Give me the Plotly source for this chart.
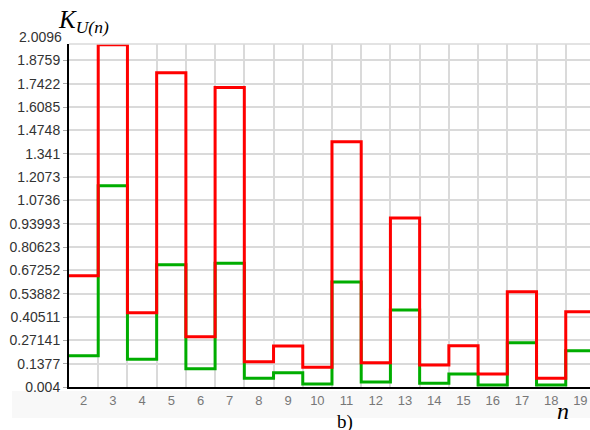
import plotly.graph_objects as go

harmonics = list(range(2, 20))
red_values = [0.642, 1.965, 0.430, 1.805, 0.292, 1.721, 0.149, 0.239, 0.117,
              1.410, 0.143, 0.972, 0.130, 0.241, 0.078, 0.550, 0.054, 0.435]
green_values = [0.183, 1.158, 0.163, 0.705, 0.109, 0.713, 0.054, 0.086, 0.021,
                0.606, 0.033, 0.445, 0.025, 0.078, 0.015, 0.258, 0.015, 0.212]
y_ticks = [0.004, 0.1377, 0.27141, 0.40511, 0.53882, 0.67252, 0.80623, 0.93993,
           1.0736, 1.2073, 1.341, 1.4748, 1.6085, 1.7422, 1.8759]
y_ticks_text = ["0.004", "0.1377", "0.27141", "0.40511", "0.53882", "0.67252", "0.80623",
                "0.93993", "1.0736", "1.2073", "1.341", "1.4748", "1.6085", "1.7422", "1.8759"]
top_tick = 2.0096
y_min, y_max = 0.004, 1.9696

edges = [h - 0.5 for h in harmonics] + [harmonics[-1] + 0.5]

fig = go.Figure()
fig.add_trace(go.Scatter(x=edges, y=green_values + [green_values[-1]], mode="lines",
                         line=dict(color="#00ad00", width=3, shape="hv"), hoverinfo="skip"))
fig.add_trace(go.Scatter(x=edges, y=red_values + [red_values[-1]], mode="lines",
                         line=dict(color="#ff0000", width=3, shape="hv"), hoverinfo="skip"))

grid = "#dadada"
plot_w, plot_h = 521, 343
fig.update_layout(
    width=590, height=430,
    margin=dict(l=69, r=0, t=44, b=43),
    paper_bgcolor="white", plot_bgcolor="white",
    showlegend=False,
    xaxis=dict(range=[1.5, 19.33], tickmode="array", tickvals=harmonics,
               ticktext=[str(h) for h in harmonics], showgrid=False, zeroline=False,
               showline=True, linecolor="black", linewidth=2, ticks="",
               tickfont=dict(family="Liberation Sans", size=13, color="#777777"),
               minor=dict(tickmode="array", tickvals=edges[1:], showgrid=True,
                          gridcolor=grid, gridwidth=1.5, ticks="")),
    yaxis=dict(range=[y_min, y_max], tickmode="array", tickvals=y_ticks, ticktext=y_ticks_text,
               showgrid=True, gridcolor=grid, gridwidth=1.5, zeroline=False,
               showline=True, linecolor="black", linewidth=2,
               ticks="outside", ticklen=4, tickcolor="#aaaaaa",
               tickfont=dict(family="Liberation Sans", size=14, color="#333333")),
    shapes=[
        dict(type="line", xref="paper", yref="paper", x0=0, x1=1, y0=1, y1=1,
             line=dict(color=grid, width=1.5)),
        dict(type="rect", xref="paper", yref="paper", x0=-57/plot_w, x1=1, y0=-31/plot_h, y1=-4/plot_h,
             fillcolor="#f8f8f8", line=dict(width=0), layer="below"),
    ],
    annotations=[
        dict(text=str(top_tick), xref="paper", x=0, xshift=-5, xanchor="right",
             yref="paper", y=(top_tick - y_min) / (y_max - y_min), yanchor="middle", showarrow=False,
             font=dict(family="Liberation Sans", size=14, color="#333333")),
        dict(text="<i>K</i><sub><i>U(n)</i></sub>", xref="paper", x=-13/plot_w, xanchor="left",
             yref="paper", y=1 + 5/plot_h, yanchor="bottom", showarrow=False,
             font=dict(family="Liberation Serif", size=25, color="black")),
        dict(text="b)", xref="paper", x=(345-69)/plot_w, xanchor="center",
             yref="paper", y=-35/plot_h, yanchor="middle", showarrow=False,
             font=dict(family="Liberation Serif", size=19, color="black")),
        dict(text="<i>n</i>", xref="paper", x=(563-69)/plot_w, xanchor="center",
             yref="paper", y=-24/plot_h, yanchor="middle", showarrow=False,
             font=dict(family="Liberation Serif", size=24, color="black")),
    ],
)

fig.write_html("out.html", config={"displayModeBar": False},
               post_script="document.body.style.margin='0';document.body.style.overflow='hidden';")
